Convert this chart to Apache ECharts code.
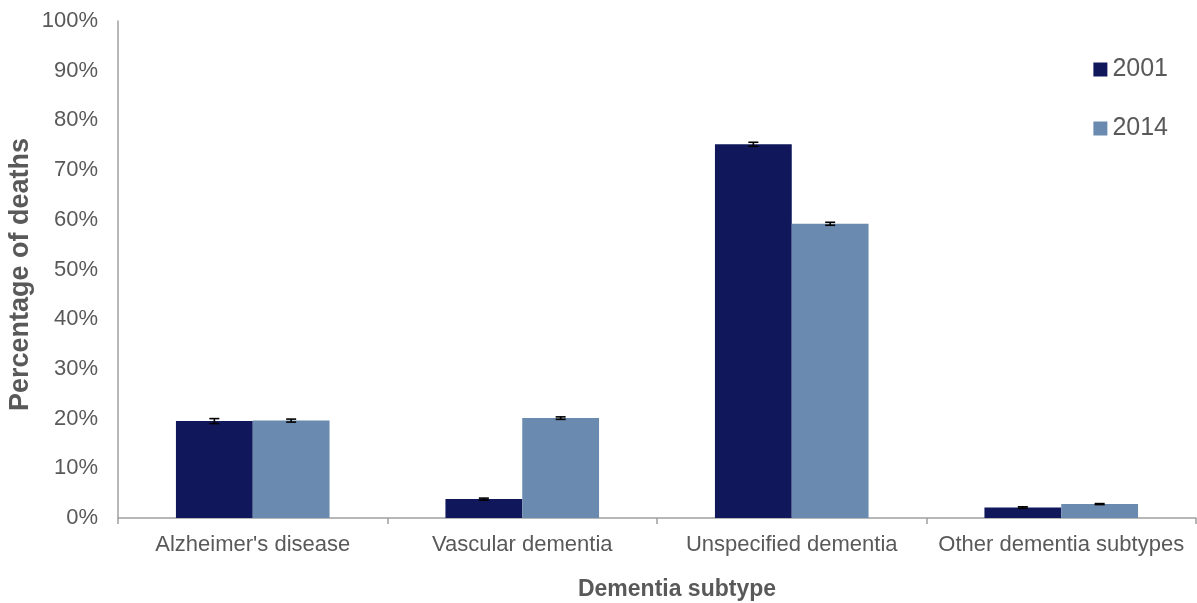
<!DOCTYPE html>
<html>
<head>
<meta charset="utf-8">
<script src="https://cdn.jsdelivr.net/npm/echarts@6/dist/echarts.min.js"></script>
<style>
  html, body { margin: 0; padding: 0; background: #fff; }
  #chart { width: 1197px; height: 603px; }
</style>
</head>
<body>
<div id="chart"></div>
<script>
// data
var categories = ["Alzheimer's disease", 'Vascular dementia', 'Unspecified dementia', 'Other dementia subtypes'];
var years = ['2001', '2014'];
var values2001 = [19.5, 3.8, 75.2, 2.1];
var values2014 = [19.6, 20.1, 59.2, 2.8];
var err2001 = [0.5, 0.2, 0.4, 0.15];
var err2014 = [0.3, 0.25, 0.3, 0.1];
var yTicks = [0, 10, 20, 30, 40, 50, 60, 70, 80, 90, 100];

var colors = ['#10175b', '#6a8aaf'];
var gapRatio = 0.43;

var chart = echarts.init(document.getElementById('chart'));

function errorSeries(values, errs, side) {
    return {
        type: 'custom',
        name: 'err' + side,
        z: 10,
        silent: true,
        data: values.map(function (v, i) { return [i, v - errs[i], v + errs[i]]; }),
        renderItem: function (params, api) {
            var i = api.value(0);
            var lo = api.coord([i, api.value(1)]);
            var hi = api.coord([i, api.value(2)]);
            var catW = api.size([1, 0])[0];
            var barW = catW * (1 - gapRatio) / 2;
            var x = lo[0] + side * barW / 2;
            var cap = 5;
            var style = { stroke: '#000', lineWidth: 1.6 };
            return {
                type: 'group',
                children: [
                    { type: 'line', shape: { x1: x, y1: lo[1], x2: x, y2: hi[1] }, style: style },
                    { type: 'line', shape: { x1: x - cap, y1: lo[1], x2: x + cap, y2: lo[1] }, style: style },
                    { type: 'line', shape: { x1: x - cap, y1: hi[1], x2: x + cap, y2: hi[1] }, style: style }
                ]
            };
        }
    };
}

var option = {
    animation: false,
    textStyle: { fontFamily: 'Liberation Sans, Arial, sans-serif' },
    grid: { left: 118, right: 1, top: 21, bottom: 85, containLabel: false, outerBoundsMode: 'none' },
    legend: {
        data: years,
        orient: 'vertical',
        right: 24,
        top: 52,
        itemGap: 34,
        itemWidth: 14,
        itemHeight: 14,
        icon: 'rect',
        textStyle: { color: '#595959', fontSize: 25, padding: 0 }
    },
    xAxis: {
        type: 'category',
        data: categories,
        name: 'Dementia subtype',
        nameLocation: 'middle',
        nameGap: 60,
        nameMoveOverlap: false,
        nameTextStyle: { color: '#595959', fontSize: 23, fontWeight: 'bold', padding: [0, 0, 0, 40] },
        axisLine: { lineStyle: { color: '#a0a0a0', width: 1.5 } },
        axisTick: { show: true, interval: 0, length: 6, lineStyle: { color: '#a0a0a0', width: 1.5 } },
        axisLabel: { color: '#595959', fontSize: 22, margin: 16, interval: 0 }
    },
    yAxis: {
        type: 'value',
        min: 0,
        max: 100,
        interval: 10,
        name: 'Percentage of deaths',
        nameLocation: 'middle',
        nameGap: 84,
        nameMoveOverlap: false,
        nameTextStyle: { color: '#595959', fontSize: 27, fontWeight: 'bold', padding: [0, 10, 0, 0] },
        axisLine: { show: true, lineStyle: { color: '#a0a0a0', width: 1.5 } },
        axisTick: { show: false },
        splitLine: { show: false },
        axisLabel: {
            color: '#595959',
            fontSize: 22,
            margin: 20,
            formatter: function (v) { return yTicks.indexOf(v) >= 0 ? v + '%' : ''; }
        }
    },
    series: [
        {
            name: years[0],
            type: 'bar',
            data: values2001,
            barGap: '0%',
            barCategoryGap: (gapRatio * 100) + '%',
            itemStyle: { color: colors[0] }
        },
        {
            name: years[1],
            type: 'bar',
            data: values2014,
            barGap: '0%',
            barCategoryGap: (gapRatio * 100) + '%',
            itemStyle: { color: colors[1] }
        },
        errorSeries(values2001, err2001, -1),
        errorSeries(values2014, err2014, 1)
    ]
};

chart.setOption(option);
</script>
</body>
</html>
